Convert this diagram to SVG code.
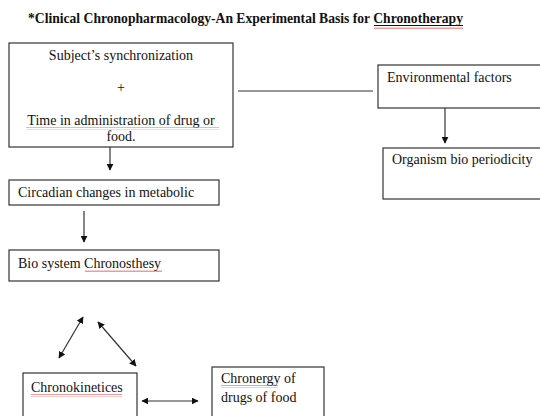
<svg xmlns="http://www.w3.org/2000/svg" width="540" height="416" viewBox="0 0 540 416">
<style>
.box{fill:#fff;stroke:#333;stroke-width:1.2}
.t{font-family:"Liberation Serif","Times New Roman","DejaVu Serif",serif;font-size:14px;fill:#111}
.title{font-family:"Liberation Serif","Times New Roman","DejaVu Serif",serif;font-size:14px;font-weight:bold;fill:#111}
.c{stroke:#333;stroke-width:1.2;fill:none}
</style>
<defs>
<marker id="ah" viewBox="0 0 10 10" refX="9" refY="5" markerWidth="7" markerHeight="7" orient="auto-start-reverse" markerUnits="userSpaceOnUse">
<path d="M0,0 L10,5 L0,10 z" fill="#111"/>
</marker>
<pattern id="wavyR" width="4" height="3" patternUnits="userSpaceOnUse">
<path d="M0,2 L1,0.5 L2,2 L3,0.5 L4,2" stroke="#e04040" stroke-width="0.6" fill="none"/>
</pattern>
<pattern id="wavyG" width="4" height="3" patternUnits="userSpaceOnUse">
<path d="M0,2 L1,0.5 L2,2 L3,0.5 L4,2" stroke="#5cb85c" stroke-width="0.6" fill="none"/>
</pattern>
</defs>
<rect width="540" height="416" fill="#fff"/>

<g id="title">
<text class="title" x="28" y="23" textLength="435" lengthAdjust="spacingAndGlyphs">*Clinical Chronopharmacology-An Experimental Basis for Chronotherapy</text>
<line x1="374" y1="25.5" x2="463" y2="25.5" stroke="#111" stroke-width="1"/>
<rect x="374" y="27" width="89" height="3" fill="url(#wavyR)"/>
</g>

<g id="connectors">
<line class="c" x1="110" y1="147" x2="110" y2="170" marker-end="url(#ah)"/>
<line class="c" x1="238" y1="91" x2="373" y2="91"/>
<line class="c" x1="445" y1="108" x2="445" y2="143" marker-end="url(#ah)"/>
<line class="c" x1="84" y1="211" x2="84" y2="242" marker-end="url(#ah)"/>
<line class="c" x1="83" y1="317" x2="59" y2="358" marker-start="url(#ah)" marker-end="url(#ah)"/>
<line class="c" x1="98" y1="322" x2="136" y2="366" marker-start="url(#ah)" marker-end="url(#ah)"/>
<line class="c" x1="142" y1="401" x2="198" y2="401" marker-start="url(#ah)" marker-end="url(#ah)"/>
</g>

<g id="subject">
<rect class="box" x="9" y="43" width="224" height="104"/>
<text class="t" x="121" y="60" text-anchor="middle">Subject’s synchronization</text>
<text class="t" x="121" y="92" text-anchor="middle">+</text>
<text class="t" x="121" y="125" text-anchor="middle">Time in administration of drug or</text>
<rect x="26" y="127" width="193" height="3" fill="url(#wavyG)"/>
<text class="t" x="121" y="141" text-anchor="middle">food.</text>
</g>

<g id="environment">
<rect class="box" x="378" y="65" width="170" height="43"/>
<text class="t" x="387" y="82">Environmental factors</text>
</g>

<g id="organism">
<rect class="box" x="383" y="148" width="165" height="51"/>
<text class="t" x="392" y="164">Organism bio periodicity</text>
</g>

<g id="circadian">
<rect class="box" x="9" y="180" width="210" height="25"/>
<text class="t" x="18" y="197">Circadian changes in metabolic</text>
</g>

<g id="biosystem">
<rect class="box" x="9" y="250" width="210" height="31"/>
<text class="t" x="18" y="268">Bio system Chronosthesy</text>
<rect x="85" y="270" width="77" height="3" fill="url(#wavyR)"/>
</g>

<g id="chronokinetices">
<rect class="box" x="23" y="373" width="114" height="50"/>
<text class="t" x="31" y="392">Chronokinetices</text>
<rect x="31" y="394" width="91" height="3" fill="url(#wavyR)"/>
</g>

<g id="chronergy">
<rect class="box" x="212" y="367" width="112" height="56"/>
<text class="t" x="221" y="383">Chronergy of</text>
<rect x="221" y="385" width="57" height="3" fill="url(#wavyR)"/>
<text class="t" x="221" y="402">drugs of food</text>
</g>
</svg>
